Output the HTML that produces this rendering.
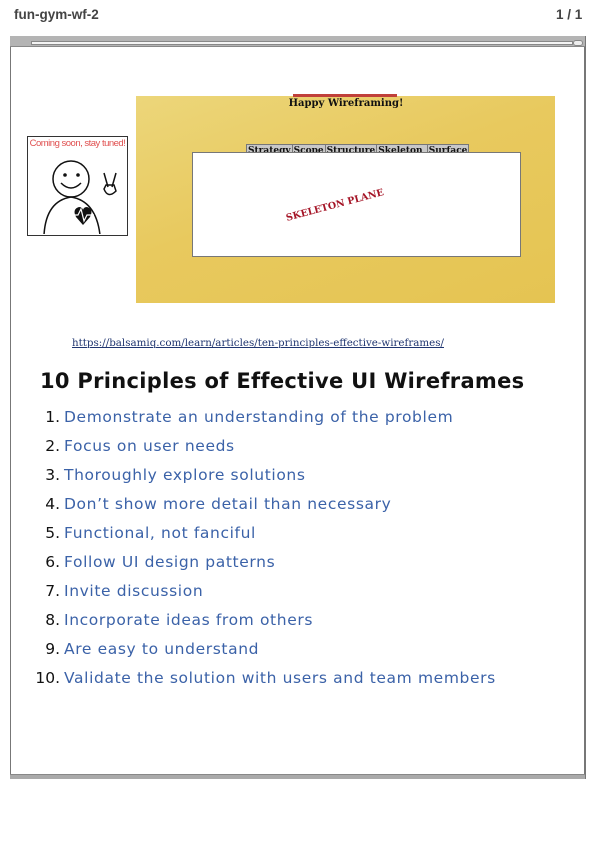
<!DOCTYPE html>
<html><head><meta charset="utf-8"><style>
body{margin:0;width:595px;height:841px;background:#fff;position:relative;font-family:"Liberation Sans",sans-serif;overflow:hidden}
.a{position:absolute}
.tab{display:inline-block;background:#c8c8c8;border:1px solid #777;border-bottom:none;font:bold 9px "DejaVu Serif",serif;padding:0 1px;height:12px;line-height:12px;margin-right:-1px;color:#111}
.li{position:absolute;left:20px;font-family:"DejaVu Sans",sans-serif;font-size:15.5px;letter-spacing:0.62px;color:#3b62a8;white-space:nowrap}
.li b{display:inline-block;width:40px;text-align:right;color:#111;font-weight:normal;margin-right:4px;letter-spacing:0}
</style></head><body>
<div class="a" style="left:14px;top:7px;font-weight:bold;font-size:13.5px;color:#444">fun-gym-wf-2</div>
<div class="a" style="left:556px;top:7px;font-weight:bold;font-size:13.5px;color:#444">1 / 1</div>

<div class="a" style="left:10px;top:36px;width:573px;height:741px;border:1px solid #777;border-right:2px solid #777"></div>
<div class="a" style="left:10px;top:36px;width:575px;height:10px;background:#b4b4b4;border-bottom:1px solid #888"></div>
<div class="a" style="left:31px;top:41px;width:540px;height:2px;background:#f4f4f4;border:1px solid #888"></div>
<div class="a" style="left:573px;top:40px;width:8px;height:4px;background:#eee;border:1px solid #888;border-radius:3px"></div>
<div class="a" style="left:10px;top:774px;width:575px;height:4px;background:#aaa;border-top:1px solid #888"></div>

<div class="a" style="left:136px;top:96px;width:419px;height:207px;background:linear-gradient(160deg,#ecd67a 0%,#e8c95e 45%,#e5c452 100%)"></div>
<div class="a" style="left:293px;top:94px;width:104px;height:3px;background:#c0403a"></div>
<div class="a" style="left:266px;top:98px;width:160px;text-align:center;font:bold 10px 'DejaVu Serif',serif;color:#111">Happy Wireframing!</div>

<div class="a" style="left:246px;top:140px;white-space:nowrap">
<span class="tab">Strategy</span><span class="tab">Scope</span><span class="tab">Structure</span><span class="tab">Skeleton&nbsp;</span><span class="tab">Surface</span></div>
<div class="a" style="left:192px;top:152px;width:327px;height:103px;background:#fff;border:1px solid #777"></div>
<div class="a" style="left:265px;top:200px;width:140px;text-align:center;font:bold 9.5px 'DejaVu Serif',serif;color:#a51426;transform:rotate(-15deg)">SKELETON PLANE</div>

<div class="a" style="left:27px;top:136px;width:99px;height:98px;border:1.5px solid #333;background:#fff">
<div style="font-size:9.5px;color:#e05050;text-align:center;letter-spacing:-0.5px;margin-top:1px;white-space:nowrap">Coming soon, stay tuned!</div>
<svg width="99" height="85" style="position:absolute;left:0;top:12px">
<circle cx="43" cy="30" r="18" fill="none" stroke="#111" stroke-width="1.5"/>
<circle cx="37" cy="26" r="1.8" fill="#111"/><circle cx="50" cy="26" r="1.8" fill="#111"/>
<path d="M33 34 Q43 44 53 34" fill="none" stroke="#111" stroke-width="1.5"/>
<path d="M16 86 Q18 52 43 48 Q68 52 72 86" fill="none" stroke="#111" stroke-width="1.5"/>
<path d="M55 76 L48 68 Q44 60 51 58 Q55 58 55 62 Q55 58 59 58 Q66 60 62 68Z" fill="#111"/>
<path d="M44 66 L50 66 L53 60 L56 72 L59 66 L66 66" fill="none" stroke="#fff" stroke-width="1.2"/>
<path d="M80 38 L76 24 M84 38 L88 24 M76 40 Q80 50 88 42 L86 36 L78 36 Z" fill="none" stroke="#111" stroke-width="1.5"/>
</svg></div>

<div class="a" style="left:72px;top:337px;font:10.3px 'DejaVu Serif',serif;color:#1f3570;text-decoration:underline;white-space:nowrap">https://balsamiq.com/learn/articles/ten-principles-effective-wireframes/</div>
<div class="a" style="left:40px;top:369px;font-family:'DejaVu Sans',sans-serif;font-weight:bold;font-size:21px;color:#111;letter-spacing:0.3px;white-space:nowrap">10 Principles of Effective UI Wireframes</div>

<div class="li" style="top:408px"><b>1.</b>Demonstrate an understanding of the problem</div>
<div class="li" style="top:437px"><b>2.</b>Focus on user needs</div>
<div class="li" style="top:466px"><b>3.</b>Thoroughly explore solutions</div>
<div class="li" style="top:495px"><b>4.</b>Don’t show more detail than necessary</div>
<div class="li" style="top:524px"><b>5.</b>Functional, not fanciful</div>
<div class="li" style="top:553px"><b>6.</b>Follow UI design patterns</div>
<div class="li" style="top:582px"><b>7.</b>Invite discussion</div>
<div class="li" style="top:611px"><b>8.</b>Incorporate ideas from others</div>
<div class="li" style="top:640px"><b>9.</b>Are easy to understand</div>
<div class="li" style="top:669px"><b>10.</b>Validate the solution with users and team members</div>
</body></html>
